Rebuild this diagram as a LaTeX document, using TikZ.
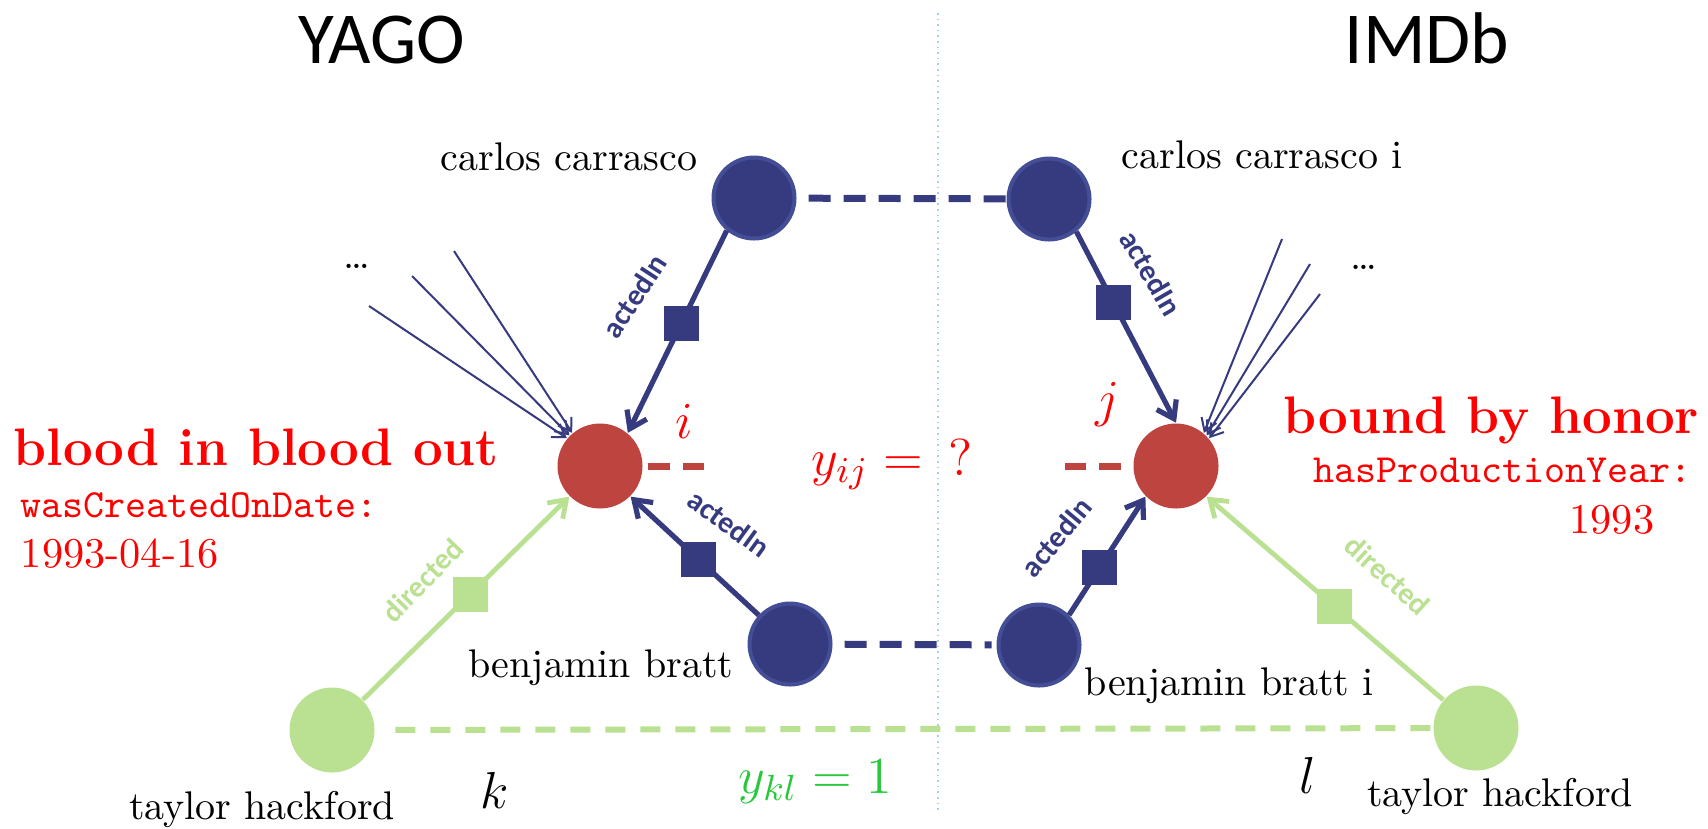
\RequirePackage{fix-cm}
\documentclass[tikz,border=0pt]{standalone}
\usepackage{fontspec}
\newfontfamily\calibri{Carlito}
\usetikzlibrary{arrows.meta}

\definecolor{nodeblue}{RGB}{54,59,128}
\definecolor{ringblue}{RGB}{68,78,150}
\definecolor{nodered}{RGB}{190,68,64}
\definecolor{nodegreen}{RGB}{186,224,145}
\definecolor{linkgreen}{RGB}{40,200,60}
\definecolor{sepblue}{RGB}{165,208,232}

\tikzset{
  entity/.style={circle, inner sep=0pt, minimum size=21.25pt},
  actor/.style={entity, fill=nodeblue, draw=ringblue, line width=1pt, minimum size=20.25pt},
  movie/.style={entity, fill=nodered},
  director/.style={entity, fill=nodegreen},
  bluebox/.style={rectangle, inner sep=0pt, minimum size=8.75pt, fill=nodeblue},
  greenbox/.style={rectangle, inner sep=0pt, minimum size=8.75pt, fill=nodegreen},
  actedin/.style={nodeblue, line width=1.3pt, -{Straight Barb[length=4pt, width=5.5pt]}},
  diredge/.style={nodegreen, line width=1.2pt, -{Straight Barb[length=4pt, width=5.5pt]}},
  fanline/.style={nodeblue, line width=0.5pt, -{Straight Barb[length=3pt, width=4pt]}},
  rellabel/.style={font=\calibri\bfseries\fontsize{7.5}{9}\selectfont, inner sep=0pt},
  samelink/.style={line width=1.75pt, dash pattern=on 5.5pt off 3.25pt},
  entname/.style={font=\fontsize{10}{12}\selectfont, inner sep=0pt},
  mathlab/.style={font=\fontsize{13}{15}\selectfont, inner sep=0pt},
  titlelab/.style={font=\bfseries\fontsize{13.2}{16}\selectfont, red, inner sep=0pt},
  attrlab/.style={font=\ttfamily\fontsize{10}{12}\selectfont, red, inner sep=0pt},
  vallab/.style={font=\fontsize{10.6}{13}\selectfont, red, inner sep=0pt},
  kbname/.style={font=\calibri\fontsize{18.3}{22}\selectfont, inner sep=0pt}
}

\begin{document}
\begin{tikzpicture}[x=0.25pt, y=-0.25pt]
\useasboundingbox (0,0) rectangle (1708,828);

% separator of the two knowledge bases
\draw[sepblue, line width=0.4pt, densely dotted] (938,13) -- (938,812);

\node[kbname, anchor=base] (yago) at (382,63) {YAGO};
\node[kbname, anchor=base] (imdb) at (1427,63) {IMDb};

% entities
\node[actor] (carlos) at (754,198) {};
\node[actor] (carlosi) at (1049,199) {};
\node[movie] (movieI) at (600,466) {};
\node[movie] (movieJ) at (1176,466) {};
\node[actor] (benjamin) at (790,644) {};
\node[actor] (benjamini) at (1039,645) {};
\node[director] (taylor) at (332,730) {};
\node[director] (taylori) at (1476,728) {};

\node[entname, anchor=base east] (carlosLab) at (698,170) {carlos carrasco};
\node[entname, anchor=base west] (carlosiLab) at (1121,168) {carlos carrasco i};
\node[entname, anchor=base east] (benjaminLab) at (734,677) {benjamin bratt};
\node[entname, anchor=base west] (benjaminiLab) at (1084,695) {benjamin bratt i};
\node[entname, anchor=base] (taylorLab) at (262,819) {taylor hackford};
\node[entname, anchor=base] (tayloriLab) at (1500,806) {taylor hackford};

% relations
\draw[actedin] (carlos.-130) -- (movieI.50)
  node[bluebox, pos=0.46] (relA) {}
  node[rellabel, nodeblue, pos=0.47, rotate=57, above=10.4pt] (relALab) {actedIn};
\draw[actedin] (benjamin) -- (movieI.south east)
  node[bluebox, pos=0.47] (relB) {}
  node[rellabel, nodeblue, pos=0.45, rotate=-36, above=8.6pt] (relBLab) {actedIn};
\draw[actedin] (carlosi.-50) -- (movieJ.north)
  node[bluebox, pos=0.37] (relC) {}
  node[rellabel, nodeblue, pos=0.34, rotate=-60, above=8.5pt] (relCLab) {actedIn};
\draw[actedin] (benjamini.45) -- (movieJ.south west)
  node[bluebox, pos=0.40] (relD) {}
  node[rellabel, nodeblue, pos=0.37, rotate=50, above=10pt] (relDLab) {actedIn};
\draw[diredge] (taylor) -- (movieI.south west)
  node[greenbox, pos=0.52] (relE) {}
  node[rellabel, nodegreen, pos=0.44, rotate=46, above=7.6pt] (relELab) {directed};
\draw[diredge] (taylori) -- (movieJ.south east)
  node[greenbox, pos=0.46] (relF) {}
  node[rellabel, nodegreen, pos=0.40, rotate=-42, above=11.3pt] (relFLab) {directed};

% further facts
\foreach \n/\x/\y/\a in {1/369/306/140, 2/412/276/135, 3/454/251/130} {
  \coordinate (fanI\n) at (\x,\y);
  \draw[fanline] (fanI\n) -- (movieI.\a);
}
\foreach \n/\x/\y/\a in {1/1282/239/50, 2/1310/264/45, 3/1320/294/40} {
  \coordinate (fanJ\n) at (\x,\y);
  \draw[fanline] (fanJ\n) -- (movieJ.\a);
}
\node[entname, anchor=base] (moreI) at (357,268) {\ldots};
\node[entname, anchor=base] (moreJ) at (1364,269) {\ldots};

% alignments
\draw[samelink, nodeblue, shorten <=3pt] (carlos) -- (carlosi);
\draw[samelink, nodeblue, shorten <=3pt, shorten >=1.25pt] (benjamin) -- (benjamini);
\draw[samelink, nodegreen, line width=1.5pt, dash pattern=on 5pt off 3.75pt, shorten <=5pt] (taylor) -- (taylori);
\coordinate (linkI) at (704,466);
\coordinate (linkJ) at (1065,466);
\draw[samelink, nodered, shorten <=1.1pt] (movieI) -- (linkI);
\draw[samelink, nodered, shorten <=3pt] (movieJ) -- (linkJ);

\node[mathlab, red, anchor=base] (labI) at (684,438) {$i$};
\node[mathlab, red, anchor=base] (labJ) at (1107,416) {$j$};
\node[mathlab, red, anchor=base] (yij) at (892,475) {$y_{ij} =\ \,?$};
\node[mathlab, anchor=base] (labK) at (495,808) {$k$};
\node[mathlab, anchor=base] (labL) at (1308,793) {$l$};
\node[mathlab, linkgreen, anchor=base] (ykl) at (815,793) {$y_{kl} = 1$};

% movie facts
\node[titlelab, anchor=base west] (bloodTitle) at (13,465) {blood in blood out};
\node[attrlab, anchor=base west] (dateAttr) at (20,517) {wasCreatedOnDate:};
\node[vallab, anchor=base west] (dateVal) at (20,567) {1993-04-16};
\node[titlelab, anchor=base east] (boundTitle) at (1700,433) {bound by honor};
\node[attrlab, anchor=base east] (yearAttr) at (1692,482) {hasProductionYear:};
\node[vallab, anchor=base east] (yearVal) at (1655,533) {1993};
\end{tikzpicture}
\end{document}
